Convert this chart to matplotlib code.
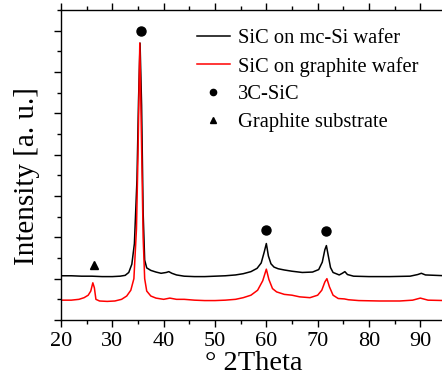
import matplotlib
matplotlib.use('Agg')
import matplotlib.pyplot as plt
from matplotlib.lines import Line2D
from matplotlib.ticker import MultipleLocator, NullFormatter

plt.rcParams['font.family'] = ['Liberation Serif', 'DejaVu Serif']

#XRD pattern (2theta, intensity in a.u.)
theta_mcsi = [20, 22, 24, 26, 28, 30, 31.5, 32.5, 33.2, 33.8, 34.3, 34.8, 35.1, 35.4, 35.7,
              36.0, 36.3, 36.7, 37.5, 38.5, 39.5, 40.5, 41.0, 41.6, 42.5, 44, 46, 48, 50,
              52, 54, 55.5, 57, 58.2, 59.0, 59.6, 60.0, 60.4, 60.9, 61.5, 62.3, 63.5, 65,
              67, 69, 70.2, 70.9, 71.4, 71.7, 72.0, 72.5, 73.0, 74.2, 74.8, 75.3, 75.8, 77,
              80, 84, 88, 89.5, 90.2, 91, 95]
int_mcsi = [1.07, 1.07, 1.06, 1.06, 1.05, 1.05, 1.06, 1.08, 1.15, 1.35, 1.85, 3.4, 5.3, 6.7, 5.2,
            2.6, 1.45, 1.26, 1.2, 1.16, 1.13, 1.15, 1.17, 1.13, 1.09, 1.06, 1.05, 1.05, 1.06,
            1.07, 1.09, 1.12, 1.17, 1.25, 1.38, 1.65, 1.85, 1.55, 1.36, 1.28, 1.24, 1.21, 1.18,
            1.15, 1.16, 1.22, 1.4, 1.7, 1.8, 1.6, 1.27, 1.15, 1.09, 1.13, 1.17, 1.1, 1.06,
            1.05, 1.05, 1.06, 1.1, 1.13, 1.09, 1.07]

theta_graph = [20, 22, 23.5, 24.5, 25.3, 25.8, 26.2, 26.5, 26.8, 27.5, 29, 30.5, 31.8, 32.8,
               33.6, 34.2, 34.7, 35.0, 35.35, 35.7, 36.0, 36.3, 36.7, 37.5, 38.5, 40, 41.2,
               42.5, 44, 46, 48, 50, 52, 54, 55.5, 57, 58.3, 59.3, 60.0, 60.5, 61.2, 62,
               63.5, 65, 66.5, 68.5, 70, 70.8, 71.4, 71.8, 72.3, 73.0, 74, 75.2, 76, 78, 82,
               86, 88.5, 90, 91.5, 95]
int_graph = [0.48, 0.48, 0.5, 0.54, 0.6, 0.7, 0.9, 0.78, 0.5, 0.46, 0.45, 0.46, 0.5, 0.58,
             0.72, 1.0, 2.2, 4.0, 6.7, 4.2, 2.0, 1.0, 0.7, 0.58, 0.53, 0.5, 0.53,
             0.5, 0.5, 0.48, 0.47, 0.47, 0.48, 0.5, 0.54, 0.6, 0.72, 0.95, 1.23, 0.98, 0.76, 0.68,
             0.62, 0.6, 0.56, 0.54, 0.6, 0.72, 0.92, 1.0, 0.8, 0.6, 0.52, 0.51, 0.49, 0.47, 0.46,
             0.46, 0.48, 0.53, 0.48, 0.47]

#peak markers
sic_x = [35.5, 60.0, 71.7]
sic_y = [6.99, 2.18, 2.16]
graphite_x = [26.5]
graphite_y = [1.33]

fig = plt.figure(figsize=(4.42, 3.78), dpi=100)
ax = fig.add_axes([61/442, 1 - 320/378, 385/442, 310/378])

ax.plot(theta_mcsi, int_mcsi, color='black', lw=1.1)
ax.plot(theta_graph, int_graph, color='red', lw=1.1)
ax.plot(sic_x, sic_y, 'o', color='black', ms=6.5)
ax.plot(graphite_x, graphite_y, '^', color='black', ms=6)

ax.set_xlim(20, 95)
ax.set_ylim(0, 7.5)
ax.xaxis.set_major_locator(MultipleLocator(10))
ax.xaxis.set_minor_locator(MultipleLocator(5))
ax.yaxis.set_major_locator(MultipleLocator(1))
ax.yaxis.set_minor_locator(MultipleLocator(0.5))
ax.yaxis.set_major_formatter(NullFormatter())
ax.tick_params(which='both', direction='out', top=True, labelsize=16, width=1)
ax.tick_params(which='major', length=5)
ax.tick_params(which='minor', length=3)
for s in ax.spines.values():
    s.set_linewidth(1)

ax.set_xlabel('° 2Theta', fontsize=20.5, labelpad=0)
ax.set_ylabel('Intensity [a. u.]', fontsize=21)
ax.yaxis.set_label_coords(-0.055, 0.465)

handles = [Line2D([], [], color='black', lw=1.1),
           Line2D([], [], color='red', lw=1.1),
           Line2D([], [], ls='none', marker='o', color='black', ms=4.5),
           Line2D([], [], ls='none', marker='^', color='black', ms=4.5)]
labels = ['SiC on mc-Si wafer', 'SiC on graphite wafer', '3C-SiC', 'Graphite substrate']
fig.legend(handles, labels, loc='upper left', bbox_to_anchor=(197/442, 1 - 29/378),
           frameon=False, fontsize=14.8, handlelength=1.6, handletextpad=0.4,
           borderpad=0, borderaxespad=0, labelspacing=0.4)

plt.savefig('out.png', dpi=100)
